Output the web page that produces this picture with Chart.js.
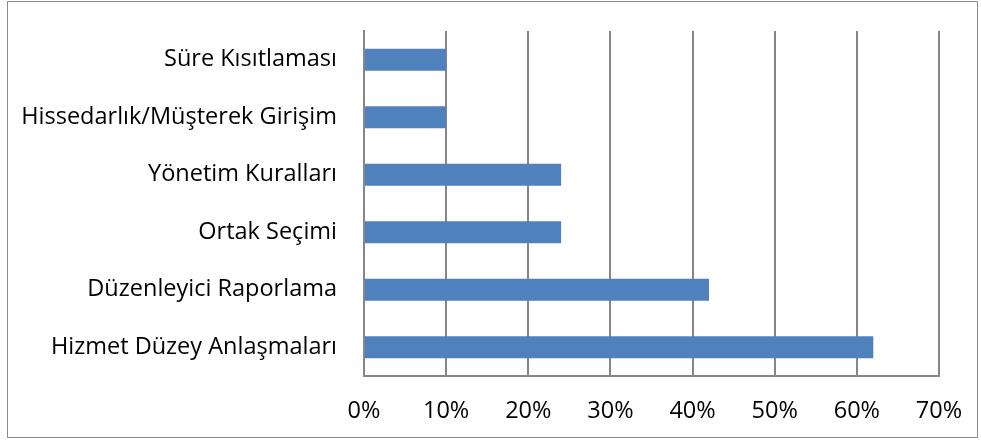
<!DOCTYPE html>
<html>
<head>
<meta charset="utf-8">
<script src="https://cdn.jsdelivr.net/npm/chart.js@4"></script>
<style>
  html, body { margin: 0; padding: 0; background: #fff; }
  #wrap { position: relative; width: 981px; height: 441px; }
  #kader { position: absolute; left: 7px; top: 1px; width: 971px; height: 437px; border: 1px solid #8c8c8c; box-sizing: border-box; pointer-events: none; }
</style>
</head>
<body>
<div id="wrap">
  <canvas id="grafiek" width="981" height="441"></canvas>
  <div id="kader"></div>
</div>
<script>
/* Yatay çubuk grafik: değerler yüzde olarak */

const kategoriler = ['Süre Kısıtlaması', 'Hissedarlık/Müşterek Girişim', 'Yönetim Kuralları', 'Ortak Seçimi', 'Düzenleyici Raporlama', 'Hizmet Düzey Anlaşmaları'];
const degerler = [10, 10, 24, 24, 42, 62];
const eksenMin = 0;
const eksenMax = 70;
const eksenAdim = 10;

const GRI = '#868686';
const FONT = { family: '"Open Sans", sans-serif', size: 23.5 };

new Chart(document.getElementById('grafiek'), {
  type: 'bar',
  data: {
    labels: kategoriler,
    datasets: [{ data: degerler, backgroundColor: '#4f81bd', barPercentage: 0.38, categoryPercentage: 1 }]
  },
  options: {
    indexAxis: 'y',
    responsive: false,
    animation: false,
    layout: { padding: { top: 31, right: 42, left: 0, bottom: 0 } },
    plugins: { legend: { display: false }, tooltip: { enabled: false } },
    scales: {
      x: {
        min: eksenMin, max: eksenMax,
        ticks: { stepSize: eksenAdim, color: '#000', font: FONT, padding: 21, callback: v => v + '%' },
        grid: { color: GRI, lineWidth: 2, drawTicks: false },
        border: { color: GRI, width: 2 },
        afterFit: s => { s.height = 65; s.paddingLeft = 0; s.paddingRight = 0; }
      },
      y: {
        ticks: { color: '#000', font: FONT, padding: 27 },
        grid: { display: false, drawTicks: false },
        border: { color: GRI, width: 2 },
        afterFit: s => { s.width = 364; s.paddingTop = 0; s.paddingBottom = 0; }
      }
    }
  }
});
</script>
</body>
</html>
